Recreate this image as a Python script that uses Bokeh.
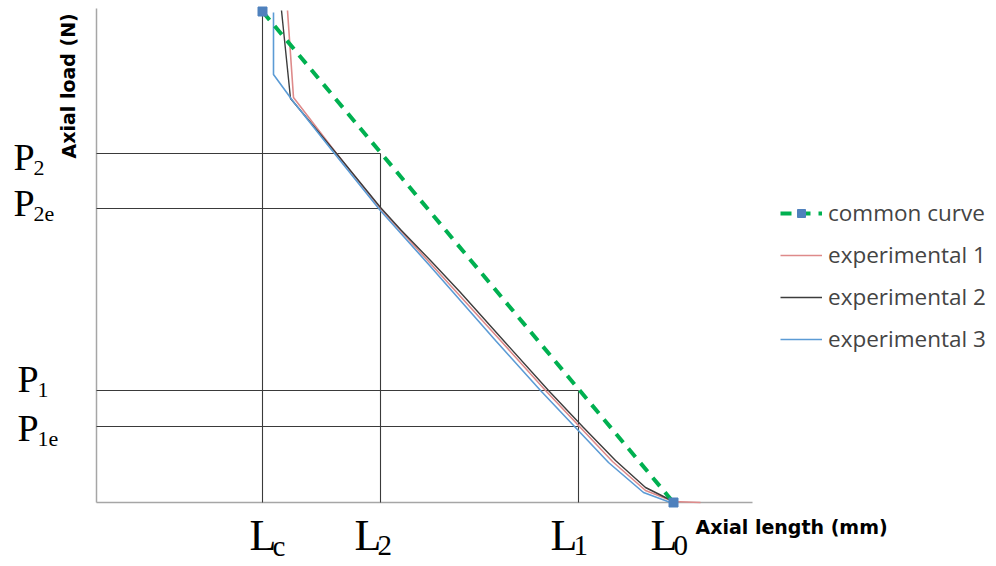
from bokeh.plotting import figure
from bokeh.models import Range1d, Legend, LegendItem, ColumnDataSource
from bokeh.core.properties import value
from bokeh.embed import file_html
from bokeh.resources import INLINE

# ---- data (arbitrary units) ----
L_c, L_2, L_1, L_0 = 166, 284, 482, 577
P_max = 491
P_2, P_2e, P_1, P_1e = 349, 294, 112, 76
axis_len_x, axis_len_y = 656, 494

common_x = [L_c, L_0]
common_y = [P_max, 0]

exp1_x = [191, 197, 240, 284, 334, 404, 449, 482, 516, 549, 577, 604]
exp1_y = [492, 405, 349, 294, 239, 162, 112, 77, 41, 12, 1, 0]

exp2_x = [185, 194, 240, 284, 304, 334, 364, 407, 452, 486, 519, 549, 577]
exp2_y = [492, 404, 349, 295, 273, 242, 210, 162, 112, 76, 42, 15, 1]

exp3_x = [177, 177, 196, 238, 283, 334, 399, 444, 478, 512, 547, 574]
exp3_y = [490, 428, 402, 349, 293, 236, 162, 112, 76, 40, 10, 0]

L_names = ["L", "L", "L", "L"]
L_subs = ["c", "2", "1", "0"]
L_vals = [L_c, L_2, L_1, L_0]
P_names = ["P", "P", "P", "P"]
P_subs = ["2", "2e", "1", "1e"]
P_vals = [P_2, P_2e, P_1, P_1e]

# ---- label placement (screen px offsets) ----
L_dx = [-13, -26, -28, -23]
P_dx = [-83, -83, -79, -79]
P_dy = [18, 9, 3, 16]

p = figure(width=996, height=566, x_range=Range1d(-96, 900), y_range=Range1d(-64, 502),
           output_backend="svg", toolbar_location=None, min_border=0,
           x_axis_type=None, y_axis_type=None)
p.grid.visible = False
p.outline_line_color = None

# axes lines
p.segment(x0=[0, 0], y0=[0, 0], x1=[axis_len_x, 0], y1=[0, axis_len_y],
          line_color="#a6a6a6", line_width=1.5)

# reference lines
seg_x0 = [L_c, L_2, L_1, 0, 0, 0, 0]
seg_y0 = [0, 0, 0, P_2, P_2e, P_1, P_1e]
seg_x1 = [L_c, L_2, L_1, L_2, L_2, L_1, L_1]
seg_y1 = [P_max, P_2, P_1, P_2, P_2e, P_1, P_1e]
p.segment(x0=seg_x0, y0=seg_y0, x1=seg_x1, y1=seg_y1, line_color="#3a3a3a", line_width=1.1)

r1 = p.line(exp1_x, exp1_y, line_color="#de8a8a", line_width=1.6)
r2 = p.line(exp2_x, exp2_y, line_color="#3c3c3c", line_width=1.4)
r3 = p.line(exp3_x, exp3_y, line_color="#5b9bd5", line_width=1.6)
rc = p.line(common_x, common_y, line_color="#00b050", line_width=4, line_dash="11 8")
rm = p.scatter(common_x, common_y, marker="square", size=9, fill_color="#4f81bd",
               line_color="#4f81bd")

# L labels
src_L = ColumnDataSource(dict(x=L_vals, y=[0] * 4, t=L_names, dx=L_dx,
                              dxs=[d + 23 for d in L_dx], s=L_subs))
p.text(x="x", y="y", text="t", x_offset="dx", y_offset=33, source=src_L,
       text_font=value("Liberation Serif"), text_font_size="44px",
       text_align="left", text_baseline="alphabetic", text_color="black")
p.text(x="x", y="y", text="s", x_offset="dxs", y_offset=43, source=src_L,
       text_font=value("Liberation Serif"), text_font_size="29px",
       text_align="left", text_baseline="alphabetic", text_color="black")

# P labels
src_P = ColumnDataSource(dict(x=[0] * 4, y=P_vals, t=P_names, s=P_subs, dx=P_dx,
                              dxs=[d + 20 for d in P_dx], dy=[d - 15 for d in P_dy],
                              dys=[d - 4 for d in P_dy]))
p.text(x="x", y="y", text="t", x_offset="dx", y_offset="dy", source=src_P,
       text_font=value("Liberation Serif"), text_font_size="38px",
       text_align="left", text_baseline="alphabetic", text_color="black")
p.text(x="x", y="y", text="s", x_offset="dxs", y_offset="dys", source=src_P,
       text_font=value("Liberation Serif"), text_font_size="22px",
       text_align="left", text_baseline="alphabetic", text_color="black")

# axis titles
p.text(x=[axis_len_x - 57], y=[0], text=["Axial length (mm)"], y_offset=24,
       text_font=value("DejaVu Sans"), text_font_style="bold", text_font_size="19px",
       text_align="left", text_baseline="alphabetic", text_color="black")
p.text(x=[0], y=[0], text=["Axial load (N)"], x_offset=-28, y_offset=-344,
       angle=1.5708, text_font=value("DejaVu Sans"), text_font_style="bold",
       text_font_size="19px", text_align="left", text_baseline="alphabetic",
       text_color="black")

legend = Legend(items=[
    LegendItem(label="common curve", renderers=[rc, rm]),
    LegendItem(label="experimental 1", renderers=[r1]),
    LegendItem(label="experimental 2", renderers=[r2]),
    LegendItem(label="experimental 3", renderers=[r3]),
], location=(780, 212), padding=0, margin=0, spacing=11, glyph_width=42,
    glyph_height=20, label_height=20, label_standoff=6,
    label_text_font="Open Sans", label_text_font_size="22.5px",
    border_line_color=None, background_fill_alpha=0)
p.add_layout(legend)

open("out.html", "w").write(file_html(p, INLINE))
